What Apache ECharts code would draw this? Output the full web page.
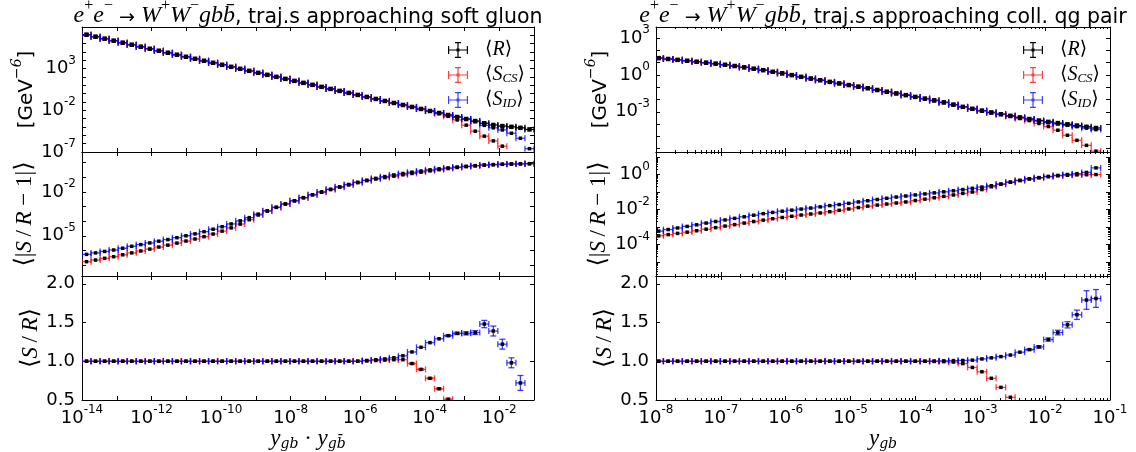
<!DOCTYPE html>
<html>
<head>
<meta charset="utf-8">
<script src="https://cdn.jsdelivr.net/npm/echarts@6/dist/echarts.min.js"></script>
<style>html,body{margin:0;padding:0;background:#fff}#chart{width:1136px;height:452px}</style>
</head>
<body>
<div id="chart"></div>
<script>
// ---- left column: trajectories approaching soft gluon, x = y_gb * y_gbbar
var xL = [1.35e-14, 2.45e-14, 4.47e-14, 8.13e-14, 1.48e-13, 2.69e-13, 4.90e-13, 8.91e-13, 1.62e-12, 2.95e-12,
  5.37e-12, 9.77e-12, 1.78e-11, 3.24e-11, 5.89e-11, 1.07e-10, 1.95e-10, 3.55e-10, 6.46e-10, 1.17e-9,
  2.14e-9, 3.89e-9, 7.08e-9, 1.29e-8, 2.34e-8, 4.27e-8, 7.76e-8, 1.41e-7, 2.57e-7, 4.68e-7,
  8.51e-7, 1.55e-6, 2.82e-6, 5.13e-6, 9.33e-6, 1.70e-5, 3.09e-5, 5.62e-5, 1.02e-4, 1.86e-4,
  3.39e-4, 6.17e-4, 1.12e-3, 2.04e-3, 3.72e-3, 6.76e-3, 1.23e-2, 2.24e-2, 4.07e-2, 7.41e-2];
var rL = [1.20e7, 6.90e6, 3.96e6, 2.28e6, 1.31e6, 7.50e5, 4.31e5, 2.47e5, 1.42e5, 8.15e4,
  4.68e4, 2.69e4, 1.54e4, 8.85e3, 5.08e3, 2.92e3, 1.67e3, 962, 552, 317,
  182, 104, 60.0, 34.4, 19.8, 11.4, 6.52, 3.74, 2.15, 1.23,
  0.708, 0.406, 0.233, 0.134, 7.69e-2, 4.42e-2, 2.54e-2, 1.46e-2, 8.36e-3, 4.80e-3,
  2.75e-3, 1.58e-3, 9.08e-4, 5.21e-4, 2.82e-4, 1.74e-4, 1.29e-4, 1.05e-4, 7.94e-5, 5.13e-5];
var csL = [1.20e7, 6.90e6, 3.96e6, 2.28e6, 1.31e6, 7.50e5, 4.31e5, 2.47e5, 1.42e5, 8.15e4,
  4.68e4, 2.69e4, 1.54e4, 8.85e3, 5.08e3, 2.92e3, 1.67e3, 962, 552, 317,
  182, 104, 60.0, 34.4, 19.8, 11.4, 6.52, 3.74, 2.15, 1.23,
  0.708, 0.406, 0.233, 0.134, 7.69e-2, 4.42e-2, 2.54e-2, 1.46e-2, 7.94e-3, 3.98e-3,
  1.91e-3, 7.08e-4, 1.66e-4, 3.16e-5, 7.94e-6, 2.14e-6, 5.01e-7, 3.2e-8, 3.2e-9, 3.2e-10];
var idL = [1.20e7, 6.90e6, 3.96e6, 2.28e6, 1.31e6, 7.50e5, 4.31e5, 2.47e5, 1.42e5, 8.15e4,
  4.68e4, 2.69e4, 1.54e4, 8.85e3, 5.08e3, 2.92e3, 1.67e3, 962, 552, 317,
  182, 104, 60.0, 34.4, 19.8, 11.4, 6.52, 3.74, 2.15, 1.23,
  0.708, 0.406, 0.233, 0.134, 7.69e-2, 4.42e-2, 2.54e-2, 1.46e-2, 8.36e-3, 4.80e-3,
  2.75e-3, 1.58e-3, 9.08e-4, 4.47e-4, 1.58e-4, 7.94e-5, 4.47e-5, 1.78e-5, 4.47e-6, 2.51e-7];
var devCsL = [1.70e-7, 2.19e-7, 2.88e-7, 3.72e-7, 5.01e-7, 6.76e-7, 9.12e-7, 1.23e-6, 1.70e-6, 2.29e-6,
  3.16e-6, 4.37e-6, 6.03e-6, 8.71e-6, 1.32e-5, 2.09e-5, 3.47e-5, 6.31e-5, 1.26e-4, 2.63e-4,
  4.90e-4, 8.71e-4, 1.48e-3, 2.45e-3, 3.98e-3, 6.31e-3, 9.55e-3, 1.45e-2, 2.09e-2, 3.02e-2,
  4.27e-2, 5.89e-2, 7.59e-2, 9.55e-2, 0.120, 0.148, 0.182, 0.224, 0.275, 0.331,
  0.398, 0.468, 0.537, 0.603, 0.676, 0.724, 0.776, 0.813, 0.832, 0.851];
var devIdL = [5.37e-7, 6.76e-7, 8.51e-7, 1.07e-6, 1.41e-6, 1.91e-6, 2.51e-6, 3.24e-6, 4.27e-6, 5.50e-6,
  7.41e-6, 1.00e-5, 1.35e-5, 1.91e-5, 2.82e-5, 4.17e-5, 6.46e-5, 1.05e-4, 1.74e-4, 3.02e-4,
  5.13e-4, 8.91e-4, 1.51e-3, 2.51e-3, 4.07e-3, 6.46e-3, 1.00e-2, 1.51e-2, 2.24e-2, 3.24e-2,
  4.57e-2, 6.31e-2, 8.51e-2, 0.112, 0.145, 0.182, 0.224, 0.269, 0.324, 0.380,
  0.437, 0.501, 0.562, 0.631, 0.692, 0.741, 0.776, 0.813, 0.832, 0.851];
var ratCsL = [1, 1, 1, 1, 1, 1, 1, 1, 1, 1,
  1, 1, 1, 1, 1, 1, 1, 1, 1, 1,
  1, 1, 1, 1, 1, 1, 1, 1, 1, 1,
  1, 1.005, 1.01, 1.015, 1.02, 1.02, 0.97, 0.895, 0.78, 0.645,
  0.51, 0.38, 0.26, 0.17, 0.10, 0.06, 0.03, 0.02, 0.01, 0.01];
var ratIdL = [1, 1, 1, 1, 1, 1, 1, 1, 1, 1,
  1, 1, 1, 1, 1, 1, 1, 1, 1, 1,
  1, 1, 1, 1, 1, 1, 1, 1, 1, 1,
  1, 1.01, 1.02, 1.03, 1.045, 1.07, 1.12, 1.18, 1.24, 1.29,
  1.33, 1.36, 1.36, 1.37, 1.48, 1.39, 1.22, 0.98, 0.72, 0.35];
var errCsL = [0.003, 0.003, 0.003, 0.003, 0.003, 0.003, 0.003, 0.003, 0.003, 0.003,
  0.003, 0.003, 0.003, 0.003, 0.003, 0.003, 0.003, 0.003, 0.003, 0.003,
  0.003, 0.003, 0.003, 0.003, 0.003, 0.003, 0.003, 0.003, 0.003, 0.003,
  0.003, 0.003, 0.003, 0.003, 0.003, 0.003, 0.01, 0.01, 0.01, 0.01,
  0.01, 0.01, 0.01, 0.01, 0.01, 0.01, 0.01, 0.01, 0.01, 0.01];
var errIdL = [0.004, 0.004, 0.004, 0.004, 0.004, 0.004, 0.004, 0.004, 0.004, 0.004,
  0.004, 0.004, 0.004, 0.004, 0.004, 0.004, 0.004, 0.004, 0.004, 0.004,
  0.004, 0.004, 0.004, 0.004, 0.004, 0.004, 0.004, 0.004, 0.004, 0.004,
  0.004, 0.004, 0.004, 0.004, 0.004, 0.004, 0.004, 0.004, 0.004, 0.008,
  0.01, 0.015, 0.02, 0.025, 0.047, 0.064, 0.064, 0.064, 0.096, 0.1];

// ---- right column: trajectories approaching collinear qg pair, x = y_gb
var xR = [1.10e-8, 1.54e-8, 2.15e-8, 3.02e-8, 4.23e-8, 5.93e-8, 8.31e-8, 1.16e-7, 1.63e-7, 2.29e-7,
  3.21e-7, 4.50e-7, 6.30e-7, 8.83e-7, 1.24e-6, 1.73e-6, 2.43e-6, 3.40e-6, 4.78e-6, 6.68e-6,
  9.38e-6, 1.32e-5, 1.84e-5, 2.58e-5, 3.61e-5, 5.07e-5, 7.11e-5, 9.95e-5, 1.40e-4, 1.95e-4,
  2.74e-4, 3.85e-4, 5.38e-4, 7.55e-4, 1.06e-3, 1.48e-3, 2.08e-3, 2.91e-3, 4.08e-3, 5.71e-3,
  8.02e-3, 1.12e-2, 1.57e-2, 2.21e-2, 3.09e-2, 4.34e-2, 6.08e-2];
var rR = [22.9, 19.5, 16.6, 14.1, 11.7, 9.77, 8.13, 6.61, 5.25, 4.07,
  3.16, 2.40, 1.78, 1.32, 0.955, 0.692, 0.501, 0.363, 0.269, 0.200,
  0.148, 0.110, 8.13e-2, 5.89e-2, 4.27e-2, 3.09e-2, 2.24e-2, 1.62e-2, 1.17e-2, 8.32e-3,
  5.75e-3, 3.80e-3, 2.51e-3, 1.74e-3, 1.23e-3, 8.71e-4, 6.31e-4, 4.68e-4, 3.47e-4, 2.57e-4,
  1.95e-4, 1.51e-4, 1.20e-4, 9.55e-5, 7.59e-5, 6.03e-5, 4.79e-5];
var csR = [22.9, 19.5, 16.6, 14.1, 11.7, 9.77, 8.13, 6.61, 5.25, 4.07,
  3.16, 2.40, 1.78, 1.32, 0.955, 0.692, 0.501, 0.363, 0.269, 0.200,
  0.148, 0.110, 8.13e-2, 5.89e-2, 4.27e-2, 3.09e-2, 2.24e-2, 1.62e-2, 1.17e-2, 8.32e-3,
  5.75e-3, 3.80e-3, 2.51e-3, 1.74e-3, 1.23e-3, 8.71e-4, 6.03e-4, 4.17e-4, 2.82e-4, 1.91e-4,
  1.12e-4, 6.31e-5, 3.16e-5, 1.23e-5, 4.79e-6, 1.86e-6, 6.31e-7];
var idR = [22.9, 19.5, 16.6, 14.1, 11.7, 9.77, 8.13, 6.61, 5.25, 4.07,
  3.16, 2.40, 1.78, 1.32, 0.955, 0.692, 0.501, 0.363, 0.269, 0.200,
  0.148, 0.110, 8.13e-2, 5.89e-2, 4.27e-2, 3.09e-2, 2.24e-2, 1.62e-2, 1.17e-2, 8.32e-3,
  5.75e-3, 3.80e-3, 2.51e-3, 1.74e-3, 1.23e-3, 8.71e-4, 6.31e-4, 4.68e-4, 3.47e-4, 2.57e-4,
  1.78e-4, 1.32e-4, 1.02e-4, 7.94e-5, 6.17e-5, 4.68e-5, 3.55e-5];
var devCsR = [3.09e-4, 3.63e-4, 4.27e-4, 5.01e-4, 6.03e-4, 7.41e-4, 9.12e-4, 1.12e-3, 1.35e-3, 1.66e-3,
  2.04e-3, 2.45e-3, 2.95e-3, 3.47e-3, 4.07e-3, 4.79e-3, 5.50e-3, 6.31e-3, 7.41e-3, 8.91e-3,
  1.07e-2, 1.29e-2, 1.55e-2, 1.78e-2, 2.04e-2, 2.34e-2, 2.69e-2, 3.24e-2, 3.89e-2, 4.68e-2,
  5.62e-2, 6.76e-2, 8.32e-2, 0.100, 0.138, 0.200, 0.282, 0.363, 0.457, 0.562,
  0.661, 0.759, 0.851, 0.912, 0.955, 0.977, 1.00];
var devIdR = [5.75e-4, 7.08e-4, 8.71e-4, 1.07e-3, 1.32e-3, 1.66e-3, 2.04e-3, 2.51e-3, 3.09e-3, 3.80e-3,
  4.68e-3, 5.75e-3, 6.76e-3, 7.94e-3, 9.12e-3, 1.05e-2, 1.20e-2, 1.41e-2, 1.66e-2, 1.91e-2,
  2.24e-2, 2.69e-2, 3.16e-2, 3.72e-2, 4.37e-2, 5.13e-2, 5.89e-2, 6.76e-2, 7.76e-2, 8.91e-2,
  0.102, 0.117, 0.138, 0.162, 0.191, 0.229, 0.282, 0.363, 0.457, 0.562,
  0.661, 0.776, 0.891, 1.00, 1.12, 1.32, 2.40];
var ratCsR = [1, 1, 1, 1, 1, 1, 1, 1, 1, 1,
  1, 1, 1, 1, 1, 1, 1, 1, 1, 1,
  1, 1, 1, 1, 1, 1, 1, 1, 1, 0.998,
  0.995, 0.99, 0.97, 0.92, 0.864, 0.78, 0.663, 0.535, 0.40, 0.28,
  0.18, 0.10, 0.06, 0.03, 0.02, 0.01, 0.01];
var ratIdR = [1, 1, 1, 1, 1, 1, 1, 1, 1, 1,
  1, 1, 1, 1, 1, 1, 1, 1, 1, 1,
  1, 1, 1, 1, 1, 1, 1, 1, 1, 1.002,
  1.005, 1.008, 1.01, 1.014, 1.03, 1.044, 1.06, 1.08, 1.117, 1.15,
  1.185, 1.28, 1.37, 1.47, 1.60, 1.79, 1.81];
var errCsR = [0.004, 0.004, 0.004, 0.004, 0.004, 0.004, 0.004, 0.004, 0.004, 0.004,
  0.004, 0.004, 0.004, 0.004, 0.004, 0.004, 0.004, 0.004, 0.004, 0.004,
  0.004, 0.004, 0.004, 0.004, 0.004, 0.004, 0.004, 0.004, 0.004, 0.004,
  0.004, 0.004, 0.004, 0.004, 0.004, 0.004, 0.004, 0.004, 0.004, 0.004,
  0.004, 0.004, 0.004, 0.004, 0.004, 0.004, 0.004];
var errIdR = [0.004, 0.004, 0.004, 0.004, 0.004, 0.004, 0.004, 0.004, 0.004, 0.004,
  0.004, 0.004, 0.004, 0.004, 0.004, 0.004, 0.004, 0.004, 0.004, 0.004,
  0.004, 0.004, 0.004, 0.004, 0.004, 0.004, 0.004, 0.004, 0.004, 0.004,
  0.004, 0.004, 0.004, 0.004, 0.004, 0.004, 0.004, 0.004, 0.004, 0.01,
  0.015, 0.02, 0.03, 0.04, 0.06, 0.12, 0.115];

// tick labels (decade exponents / ratio values)
var xLabelsL = [-14, -12, -10, -8, -6, -4, -2];
var xLabelsR = [-8, -7, -6, -5, -4, -3, -2, -1];
var yLabelsTopL = [-7, -2, 3];
var yLabelsMidL = [-5, -2];
var yLabelsTopR = [-3, 0, 3];
var yLabelsMidR = [-4, -2, 0];
var yLabelsRatio = [0.5, 1.0, 1.5, 2.0];

var SANS = 'DejaVu Sans';
var SERIF = 'Liberation Serif';
var DSERIF = 'DejaVu Serif';
var RED = '#ff0000', BLUE = '#0000ff', BLACK = '#000000';

function log10(v) { return Math.log(v) / Math.LN10; }

function range(a, b) {
  var out = [];
  for (var i = a; i <= b; i++) out.push(i);
  return out;
}

function minorDecades(a, b) {
  var out = [];
  for (var n = a; n < b; n++) {
    for (var k = 2; k <= 9; k++) out.push(n + log10(k));
  }
  return out;
}

// [log x, y, log x lo, log x hi, y lo, y hi]; bin edges halfway between neighbours
function points(xs, ys, errs, logY) {
  var lx = xs.map(log10);
  return lx.map(function(v, i) {
    var lo = i > 0 ? (lx[i - 1] + v) / 2 : v - (lx[1] - lx[0]) / 2;
    var hi = i < lx.length - 1 ? (lx[i + 1] + v) / 2 : v + (v - lx[i - 1]) / 2;
    var y = logY ? log10(ys[i]) : ys[i];
    var e = errs ? errs[i] : 0;
    return [v, y, lo, hi, y - e, y + e];
  });
}

function errorbars(color, opacity, mark) {
  return function(params, api) {
    var c = api.coord([api.value(0), api.value(1)]);
    var l = api.coord([api.value(2), api.value(1)]);
    var r = api.coord([api.value(3), api.value(1)]);
    var lo = api.coord([api.value(0), api.value(4)]);
    var hi = api.coord([api.value(0), api.value(5)]);
    var st = {stroke: color, lineWidth: 1.3, opacity: opacity};
    var cap = 3;
    var kids = [
      {type: 'line', shape: {x1: l[0], y1: c[1], x2: r[0], y2: c[1]}, style: st},
      {type: 'line', shape: {x1: l[0], y1: c[1] - cap, x2: l[0], y2: c[1] + cap}, style: st},
      {type: 'line', shape: {x1: r[0], y1: c[1] - cap, x2: r[0], y2: c[1] + cap}, style: st}
    ];
    if (lo[1] - hi[1] > 1.5) {
      kids.push({type: 'line', shape: {x1: c[0], y1: lo[1], x2: c[0], y2: hi[1]}, style: st});
      kids.push({type: 'line', shape: {x1: c[0] - cap, y1: lo[1], x2: c[0] + cap, y2: lo[1]}, style: st});
      kids.push({type: 'line', shape: {x1: c[0] - cap, y1: hi[1], x2: c[0] + cap, y2: hi[1]}, style: st});
    }
    kids.push({type: 'rect', shape: {x: c[0] - mark / 2, y: c[1] - mark / 2, width: mark, height: mark}, style: {fill: BLACK}});
    var cs = params.coordSys;
    return {
      type: 'group',
      children: kids,
      clipPath: {type: 'rect', shape: {x: cs.x, y: cs.y, width: cs.width, height: cs.height}}
    };
  };
}

var powRichX = {
  b: {fontFamily: SANS, fontSize: 18, color: BLACK, padding: [5, 0, 0, 0], verticalAlign: 'bottom'},
  s: {fontFamily: SANS, fontSize: 12, color: BLACK, verticalAlign: 'top'}
};
var powRichY = {
  b: {fontFamily: SANS, fontSize: 18, color: BLACK, padding: [5, 0, 5, 0], verticalAlign: 'bottom'},
  s: {fontFamily: SANS, fontSize: 12, color: BLACK, verticalAlign: 'top'}
};
function powLabel(v) {
  return '{b|10}{s|' + Math.round(v) + '}';
}

var mathRich = {
  it: {fontFamily: SERIF, fontStyle: 'italic', fontSize: 23, color: BLACK},
  v: {fontFamily: SERIF, fontSize: 23, color: BLACK},
  br: {fontFamily: SANS, fontSize: 24, color: BLACK},
  t: {fontFamily: SANS, fontSize: 20, color: BLACK, padding: [7, 0, 0, 0], verticalAlign: 'bottom'},
  sup: {fontFamily: DSERIF, fontStyle: 'italic', fontSize: 14, color: BLACK, verticalAlign: 'top'},
  xi: {fontFamily: SERIF, fontStyle: 'italic', fontSize: 23, lineHeight: 23, color: BLACK, padding: [0, 0, 6, 0], verticalAlign: 'top'},
  xv: {fontFamily: SERIF, fontSize: 23, lineHeight: 23, color: BLACK, padding: [0, 0, 6, 0], verticalAlign: 'top'},
  sub: {fontFamily: DSERIF, fontStyle: 'italic', fontSize: 14, lineHeight: 16, color: BLACK, verticalAlign: 'bottom'}
};
var nameGev = '{t|[GeV}{sup|\u22126}{t|]}';
var nameDev = '{br|\u27e8}{v||}{it|S}{v|\u2009/\u2009}{it|R}{v| \u2212 1}{v||}{br|\u27e9}';
var nameRat = '{br|\u27e8}{it|S}{v|\u2009/\u2009}{it|R}{br|\u27e9}';
var nameXL = '{xi|y}{sub|gb}{xv| \u00b7 }{xi|y}{sub|gb\u0304}';
var nameXR = '{xi|y}{sub|gb}';

var option = {
  backgroundColor: '#ffffff',
  animation: false,
  title: [],
  legend: [],
  grid: [],
  xAxis: [],
  yAxis: [],
  series: []
};

function axis(gi, pos, r, ticks, len, line) {
  return {
    type: 'value', gridIndex: gi, position: pos, min: r[0], max: r[1],
    axisLine: {show: line, onZero: false, lineStyle: {color: BLACK, width: 1}},
    axisTick: {show: true, inside: true, length: len, customValues: ticks, lineStyle: {color: BLACK, width: 1}},
    axisLabel: {show: false},
    splitLine: {show: false},
    axisPointer: {show: false},
    silent: true
  };
}

function addPanel(p) {
  var gi = option.grid.length;
  option.grid.push({left: p.left, top: p.top, width: p.width, height: p.height, outerBoundsMode: 'none'});

  var xi = option.xAxis.length;
  var xb = axis(gi, 'bottom', p.xr, p.xTicks, 4, true);
  if (p.xLabels) {
    xb.axisLabel = {show: true, customValues: p.xLabels, formatter: powLabel, rich: powRichX, margin: 4};
    xb.name = p.xName;
    xb.nameLocation = 'middle';
    xb.nameGap = 27;
    xb.nameTextStyle = {rich: mathRich};
  }
  option.xAxis.push(xb, axis(gi, 'top', p.xr, p.xTicks, 4, true));
  if (p.xMinor) {
    option.xAxis.push(axis(gi, 'bottom', p.xr, p.xMinor, 2, false), axis(gi, 'top', p.xr, p.xMinor, 2, false));
  }

  var yi = option.yAxis.length;
  var yl = axis(gi, 'left', p.yr, p.yTicks, 4, true);
  yl.axisLabel = p.yLog ?
    {show: true, customValues: p.yLabels, formatter: powLabel, rich: powRichY, margin: 6} :
    {show: true, customValues: p.yLabels, margin: 7, fontFamily: SANS, fontSize: 18, color: BLACK,
      formatter: function(v) { return v.toFixed(1); }};
  yl.name = p.yName;
  yl.nameLocation = 'middle';
  yl.nameRotate = 90;
  yl.nameGap = p.yGap;
  yl.nameTextStyle = {rich: mathRich};
  option.yAxis.push(yl, axis(gi, 'right', p.yr, p.yTicks, 4, true));
  if (p.yMinor) {
    option.yAxis.push(axis(gi, 'left', p.yr, p.yMinor, 2, false), axis(gi, 'right', p.yr, p.yMinor, 2, false));
  }

  p.series.forEach(function(s) {
    option.series.push({
      type: 'custom',
      name: s.name,
      xAxisIndex: xi,
      yAxisIndex: yi,
      itemStyle: {color: s.color},
      encode: {x: [0, 2, 3], y: [1, 4, 5]},
      renderItem: errorbars(s.color, s.color === BLACK ? 1 : 0.75, s.color === BLACK ? 4.5 : 3.5),
      data: points(p.xs, s.data, s.err, p.yLog),
      silent: true
    });
  });
}

var colL = {left: 82, width: 452, xs: xL, xr: [-14, -1], xTicks: range(-14, -1), yGap: 44};
var colR = {left: 656, width: 454, xs: xR, xr: [-8, -1], xTicks: range(-8, -1), xMinor: minorDecades(-8, -1), yGap: 44};
var rows = [{top: 27, height: 125}, {top: 152, height: 124}, {top: 276, height: 124}];

function panel(col, row, extra) {
  var p = {};
  [col, rows[row], extra].forEach(function(o) { for (var k in o) p[k] = o[k]; });
  addPanel(p);
}

panel(colL, 0, {yr: [-7, 8], yLog: true, yTicks: range(-7, 8), yLabels: yLabelsTopL, yName: nameGev,
  series: [{name: 'R', color: BLACK, data: rL}, {name: 'CS', color: RED, data: csL}, {name: 'ID', color: BLUE, data: idL}]});
panel(colL, 1, {yr: [-7.75, 0.73], yLog: true, yTicks: range(-7, 0), yLabels: yLabelsMidL, yName: nameDev,
  series: [{name: 'CS', color: RED, data: devCsL}, {name: 'ID', color: BLUE, data: devIdL}]});
panel(colL, 2, {yr: [0.5, 2.1], yLog: false, yTicks: yLabelsRatio, yLabels: yLabelsRatio, yName: nameRat, yGap: 36,
  xLabels: xLabelsL, xName: nameXL,
  series: [{name: 'CS', color: RED, data: ratCsL, err: errCsL}, {name: 'ID', color: BLUE, data: ratIdL, err: errIdL}]});
panel(colR, 0, {yr: [-6.27, 3.89], yLog: true, yTicks: range(-6, 3), yLabels: yLabelsTopR, yName: nameGev,
  series: [{name: 'R', color: BLACK, data: rR}, {name: 'CS', color: RED, data: csR}, {name: 'ID', color: BLUE, data: idR}]});
panel(colR, 1, {yr: [-5.81, 1.29], yLog: true, yTicks: range(-5, 1), yMinor: minorDecades(-6, 1), yLabels: yLabelsMidR, yName: nameDev,
  series: [{name: 'CS', color: RED, data: devCsR}, {name: 'ID', color: BLUE, data: devIdR}]});
panel(colR, 2, {yr: [0.5, 2.1], yLog: false, yTicks: yLabelsRatio, yLabels: yLabelsRatio, yName: nameRat, yGap: 36,
  xLabels: xLabelsR, xName: nameXR,
  series: [{name: 'CS', color: RED, data: ratCsR, err: errCsR}, {name: 'ID', color: BLUE, data: ratIdR, err: errIdR}]});

// titles
var titleRich = {
  m: {fontFamily: SERIF, fontStyle: 'italic', fontWeight: 'normal', fontSize: 24, color: BLACK, padding: [6, 0, 0, 0], verticalAlign: 'bottom'},
  u: {fontFamily: SANS, fontWeight: 'normal', fontSize: 19, color: BLACK, padding: [6, 0, 0, 0], verticalAlign: 'bottom'},
  p: {fontFamily: SERIF, fontWeight: 'normal', fontSize: 16, color: BLACK, verticalAlign: 'top'},
  t: {fontFamily: SANS, fontWeight: 'normal', fontSize: 20.5, color: BLACK, padding: [6, 0, 0, 0], verticalAlign: 'bottom'}
};
function titleText(what) {
  return '{m|e}{p|+}{m|e}{p|\u2212}{u| \u2192 }{m|W}{p|+}{m|W}{p|\u2212}{m|gbb\u0304}{t|, traj.s approaching ' + what + '}';
}
option.title.push(
  {text: titleText('soft gluon'), left: 308, top: -2, textAlign: 'center', padding: 0,
    textStyle: {fontWeight: 'normal', rich: titleRich}},
  {text: titleText('coll. qg pair'), left: 883, top: -2, textAlign: 'center', padding: 0,
    textStyle: {fontWeight: 'normal', rich: titleRich}}
);

// legends: error bar glyph
var ICON = 'path://M0 7.4L20 7.4L20 8.6L0 8.6Z M0 4L1.2 4L1.2 12L0 12Z M18.8 4L20 4L20 12L18.8 12Z ' +
  'M9.4 0L10.6 0L10.6 16L9.4 16Z M7 0L13 0L13 1.2L7 1.2Z M7 14.8L13 14.8L13 16L7 16Z M8.5 6.5L11.5 6.5L11.5 9.5L8.5 9.5Z';
var legendNames = {
  R: '{br|\u27e8}{li|R}{br|\u27e9}',
  CS: '{br|\u27e8}{li|S}{sub|CS}{br|\u27e9}',
  ID: '{br|\u27e8}{li|S}{sub|ID}{br|\u27e9}'
};
var legendRich = {
  br: {fontFamily: SANS, fontSize: 19, lineHeight: 20, color: BLACK, padding: [0, 0, 5, 0], verticalAlign: 'top'},
  li: {fontFamily: SERIF, fontStyle: 'italic', fontSize: 20, lineHeight: 20, color: BLACK, padding: [0, 0, 5, 0], verticalAlign: 'top'},
  sub: {fontFamily: SERIF, fontStyle: 'italic', fontSize: 13, lineHeight: 13, color: BLACK, verticalAlign: 'bottom'}
};
[448, 1023].forEach(function(x) {
  option.legend.push({
    left: x, top: 40, orient: 'vertical', padding: 0, itemWidth: 20, itemHeight: 16, itemGap: 0,
    selectedMode: false,
    data: [
      {name: 'R', icon: ICON, itemStyle: {color: BLACK}},
      {name: 'CS', icon: ICON, itemStyle: {color: RED, opacity: 0.75}},
      {name: 'ID', icon: ICON, itemStyle: {color: BLUE, opacity: 0.75}}
    ],
    formatter: function(name) { return legendNames[name]; },
    textStyle: {rich: legendRich, padding: [0, 0, 0, 12]}
  });
});

var chart = echarts.init(document.getElementById('chart'), null, {renderer: 'canvas'});
chart.setOption(option);
</script>
</body>
</html>
